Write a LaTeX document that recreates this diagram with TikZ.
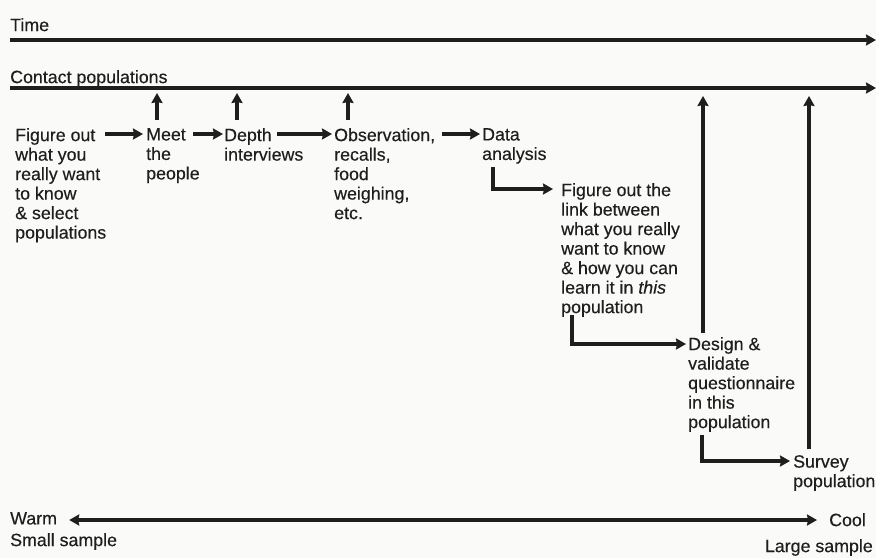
\documentclass[tikz,border=0pt]{standalone}
\usepackage{fontspec}
\setmainfont{Liberation Sans}[FakeBold=0.3]
\usetikzlibrary{arrows.meta}
\definecolor{ink}{HTML}{1E1E1E}
\definecolor{paper}{HTML}{FAFAF8}
\begin{document}
\begin{tikzpicture}[x=1pt,y=-1pt,
  txt/.style={anchor=north west, inner sep=0pt, align=left,
    font=\fontsize{17.8}{19.5}\selectfont, text=ink},
  tip/.tip={Stealth[length=10pt,width=11pt,inset=1pt]},
  arr/.style={line width=3.2pt, draw=ink, line cap=butt, -tip},
  biarr/.style={line width=3.2pt, draw=ink, tip-tip},
  elb/.style={arr}
]
\fill[paper] (0,0) rectangle (876,558);
\useasboundingbox (0,0) rectangle (876,558);

% header lines
\node[txt] (time) at (10,18) {Time};
\coordinate (tl) at (10,40);
\coordinate (tr) at (876,40);
\draw[arr] (tl) -- (tr);
\node[txt] (contact) at (10,70) {Contact populations};
\coordinate (cl) at (10,88);
\coordinate (cr) at (876,88);
\draw[arr] (cl) -- (cr);

% step nodes
\node[txt] (fig) at (15,128) {Figure out\\what you\\really want\\to know\\\& select\\populations};
\node[txt] (meet) at (146,128) {Meet\\the\\people};
\node[txt] (depth) at (224,128) {Depth\\interviews};
\node[txt] (obs) at (334,128) {Observation,\\recalls,\\food\\weighing,\\etc.};
\node[txt] (data) at (482,128) {Data\\analysis};
\node[txt] (link) at (561,183) {Figure out the\\link between\\what you really\\want to know\\\& how you can\\learn it in \textit{this}\\population};
\node[txt] (design) at (688,337) {Design \&\\validate\\questionnaire\\in this\\population};
\node[txt] (survey) at (793,455) {Survey\\population};

% row arrows
\coordinate (r1) at (0,134);
\coordinate (a1) at (105,134);
\coordinate (a2) at (193,134);
\coordinate (a3) at (277,134);
\coordinate (a4) at (442,134);
\draw[arr] (a1) -- ([xshift=-3pt]meet.west |- r1);
\draw[arr] (a2) -- ([xshift=-1pt]depth.west |- r1);
\draw[arr] (a3) -- ([xshift=-2pt]obs.west |- r1);
\draw[arr] (a4) -- ([xshift=-2pt]data.west |- r1);

% short up arrows to contact line
\coordinate (u1) at (157,120);
\coordinate (u2) at (237,120);
\coordinate (u3) at (348,120);
\draw[arr, shorten >=5pt] (u1) -- (u1 |- cl);
\draw[arr, shorten >=5pt] (u2) -- (u2 |- cl);
\draw[arr, shorten >=5pt] (u3) -- (u3 |- cl);

% elbow arrows
\coordinate (e1) at (493,167);
\coordinate (h1) at (0,189);
\draw[elb] (e1) |- ([xshift=-8pt]link.west |- h1);
\coordinate (e2) at (572,315);
\coordinate (h2) at (0,344);
\draw[elb] (e2) |- ([xshift=-2pt]design.west |- h2);
\coordinate (e3) at (702,435);
\coordinate (h3) at (0,461);
\draw[elb] (e3) |- ([xshift=-3pt]survey.west |- h3);

% long up arrows
\coordinate (v1) at (703,333);
\coordinate (v2) at (809,449);
\draw[arr, shorten >=8pt] (v1) -- (v1 |- cl);
\draw[arr, shorten >=8pt] (v2) -- (v2 |- cl);

% bottom scale
\node[txt] (warm) at (10,512) {Warm};
\node[txt] (small) at (10,533) {Small sample};
\node[txt] (cool) at (829,513) {Cool};
\node[txt, anchor=north east] (large) at (873,539) {Large sample};
\coordinate (s1) at (0,520);
\draw[biarr] ([xshift=12pt]warm.east |- s1) -- ([xshift=-12pt]cool.west |- s1);
\end{tikzpicture}
\end{document}
